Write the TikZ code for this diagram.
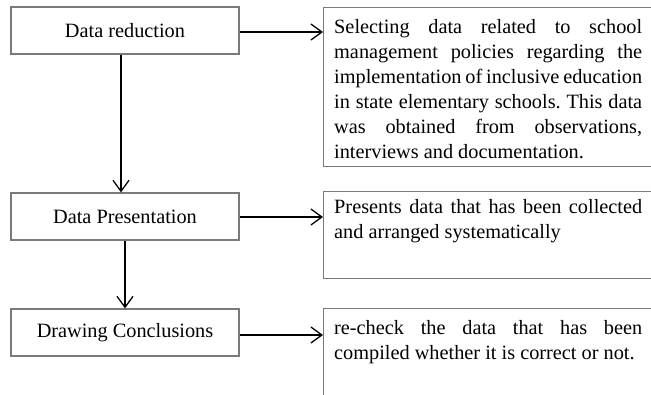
\documentclass[tikz,border=0pt]{standalone}
\usepackage{fontspec}
\setmainfont{Liberation Serif}
\usepackage{xcolor}
\usetikzlibrary{arrows.meta}

\definecolor{boxgray}{HTML}{7A7A7A}
\frenchspacing

\tikzset{
	stage/.style={draw=boxgray, line width=1.2pt, minimum width=228pt, minimum height=47pt, inner sep=0pt, font=\fontsize{20.3}{25}\selectfont},
	outbox/.style={draw=boxgray, line width=1.2pt, anchor=north west, minimum width=340pt, inner sep=0pt},
	outtext/.style={anchor=base west, text width=308pt, align=justify, inner xsep=11pt, inner ysep=0pt, font=\fontsize{20.3}{25}\selectfont},
	flow/.style={line width=1.3pt, -{Straight Barb[length=11pt, width=16pt]}}
}

\begin{document}
\begin{tikzpicture}[x=1pt, y=-1pt]
		\useasboundingbox (0,0) rectangle (651,394);
		\clip (0,0) rectangle (651,394);

		\node [stage] (reduce) at (125,30.5) {Data reduction};
		\node [stage] (present) at (125,216.5) {Data Presentation};
		\node [stage] (conclude) at (125,332.5) {Drawing Conclusions};

		\node [outbox, minimum height=159pt] (select) at (323,7) {};
		\node [outbox, minimum height=87pt] (arrange) at (323,191) {};
		\node [outbox, minimum height=110pt] (recheck) at (323,308) {};

		\node [outtext] (selecttext) at ([yshift=-26pt]select.north west)
			{Selecting data related to school\linebreak
			management policies regarding the\linebreak
			implementation of inclusive education\linebreak
			in state elementary schools. This data\linebreak
			was obtained from observations,\linebreak
			interviews and documentation.};
		\node [outtext] (arrangetext) at ([yshift=-22pt]arrange.north west)
			{Presents data that has been collected\linebreak
			and arranged systematically};
		\node [outtext] (rechecktext) at ([yshift=-26pt]recheck.north west)
			{re-check the data that has been\linebreak
			compiled whether it is correct or not.};

		\draw [flow] ([yshift=-1.5pt]reduce.east) -- ([yshift=-1.5pt]reduce.east -| select.west);
		\draw [flow] ([yshift=-0.5pt]present.east) -- ([yshift=-0.5pt]present.east -| arrange.west);
		\draw [flow] ([yshift=-2.5pt]conclude.east) -- ([yshift=-2.5pt]conclude.east -| recheck.west);

		\draw [flow] ([xshift=-4pt]reduce.south) -- ([xshift=-4pt]present.north);
		\draw [flow] (present.south) -- (conclude.north);
	\end{tikzpicture}
\end{document}
